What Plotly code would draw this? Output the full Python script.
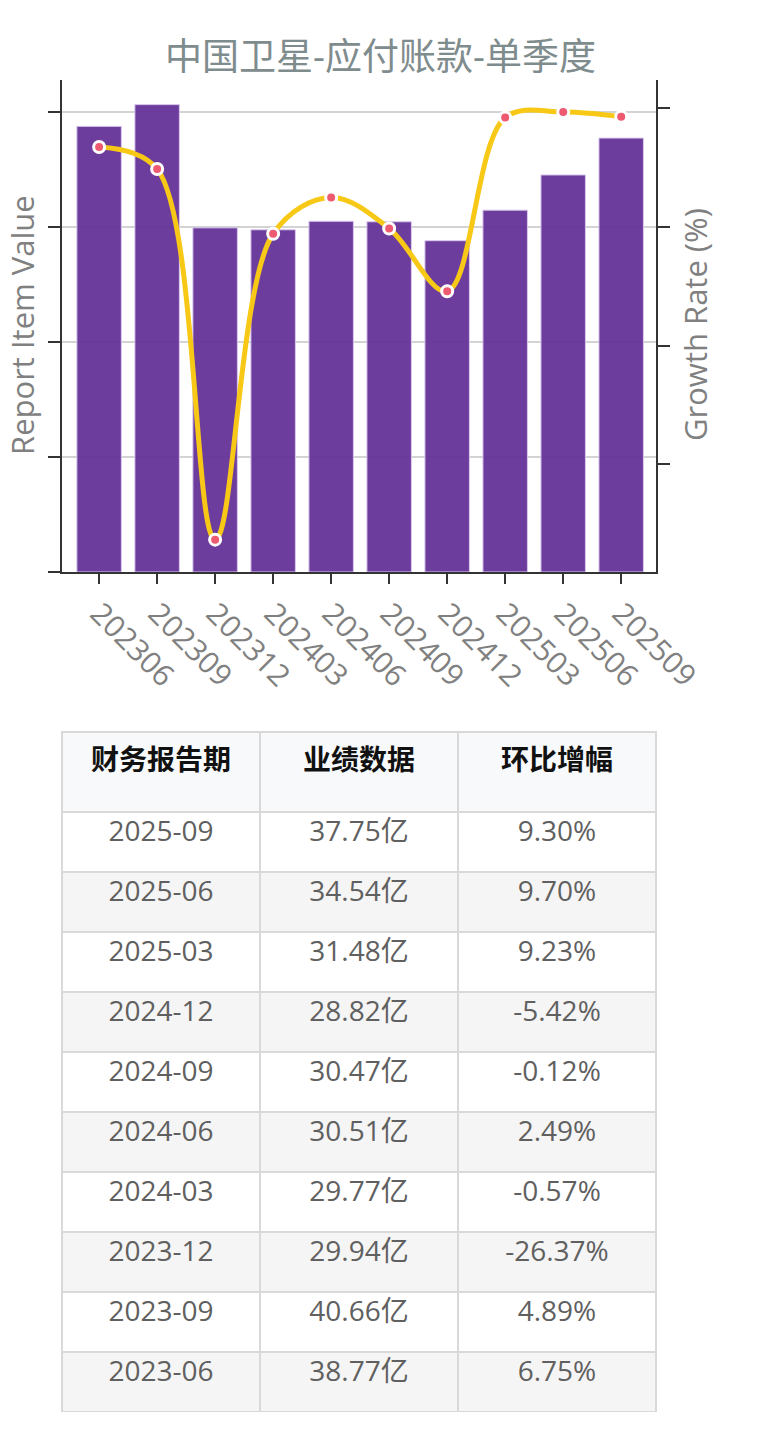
import plotly.graph_objects as go

# ---- data ----
periods = ["202306", "202309", "202312", "202403", "202406",
           "202409", "202412", "202503", "202506", "202509"]
values_yi = [38.77, 40.66, 29.94, 29.77, 30.51, 30.47, 28.82, 31.48, 34.54, 37.75]
growth_pct = [6.75, 4.89, -26.37, -0.57, 2.49, -0.12, -5.42, 9.23, 9.70, 9.30]

table_header = ["财务报告期", "业绩数据", "环比增幅"]
table_dates = ["2025-09", "2025-06", "2025-03", "2024-12", "2024-09",
               "2024-06", "2024-03", "2023-12", "2023-09", "2023-06"]
table_values = ["37.75亿", "34.54亿", "31.48亿", "28.82亿", "30.47亿",
                "30.51亿", "29.77亿", "29.94亿", "40.66亿", "38.77亿"]
table_growth = ["9.30%", "9.70%", "9.23%", "-5.42%", "-0.12%",
                "2.49%", "-0.57%", "-26.37%", "4.89%", "6.75%"]

W, H = 761, 1440
FONT = "Open Sans, Noto Sans CJK SC, sans-serif"
GRAY = "#808080"

px = lambda x: x / W
py = lambda y: 1 - y / H

fig = go.Figure()

fig.add_trace(go.Bar(
    x=periods, y=values_yi, name="Report Item Value",
    marker=dict(color="#663399", line=dict(color="#d9c8ec", width=1)),
    opacity=0.95, yaxis="y",
))

fig.add_trace(go.Scatter(
    x=periods, y=growth_pct, name="Growth Rate", yaxis="y2",
    mode="lines+markers",
    line=dict(color="#F7C815", width=5, shape="spline", smoothing=1.0),
    marker=dict(color="#EE5A6F", size=11, line=dict(color="white", width=3)),
))

# zero line of growth axis
fig.add_shape(type="line", xref="paper", x0=px(62), x1=px(656),
              yref="y2", y0=0, y1=0, layer="below",
              line=dict(color="#d9463c", width=1.5))

fig.add_trace(go.Table(
    domain=dict(x=[px(62), px(656)], y=[py(1412), py(732)]),
    columnwidth=[1, 1, 1],
    header=dict(
        values=[f"<b>{h}</b>" for h in table_header],
        fill_color="#f8f9fa", line=dict(color="#d9d9d9", width=2),
        align="center", height=80,
        font=dict(family=FONT, size=28, color="#111111"),
    ),
    cells=dict(
        values=[table_dates, table_values, table_growth],
        fill_color=[["#ffffff" if i % 2 == 0 else "#f5f5f5" for i in range(len(table_dates))]] * 3,
        line=dict(color="#d9d9d9", width=2),
        align="center", height=60,
        font=dict(family=FONT, size=28, color="#606060"),
    ),
))

fig.update_layout(
    width=W, height=H,
    margin=dict(l=0, r=0, t=0, b=0),
    paper_bgcolor="white", plot_bgcolor="white",
    showlegend=False,
    font=dict(family=FONT, color=GRAY),
    bargap=0.233,
    title=dict(text="中国卫星-应付账款-单季度", x=0.5, xanchor="center",
               y=py(57), yanchor="middle",
               font=dict(family=FONT, size=37, color="#7f8c8d")),
    xaxis=dict(
        domain=[px(62), px(656)], type="category", range=[-0.64, 9.6],
        showline=True, linecolor="#333333", linewidth=2,
        ticks="outside", ticklen=10, tickwidth=2, tickcolor="#333333",
        tickangle=45, tickfont=dict(size=30, color=GRAY),
        showgrid=False, automargin=False,
    ),
    yaxis=dict(
        domain=[py(572), py(80)], range=[0, 42.8], tick0=0, dtick=10,
        showticklabels=False, ticks="outside", ticklen=12, tickwidth=2,
        tickcolor="#333333", showline=True, linecolor="#333333", linewidth=2,
        showgrid=True, gridcolor="#d3d3d3", gridwidth=1.5,
        zeroline=False, automargin=False,
    ),
    yaxis2=dict(
        overlaying="y", side="right", anchor="x", range=[-29.1, 12.4],
        tick0=0, dtick=10, showticklabels=False, ticks="outside", ticklen=12,
        tickwidth=2, tickcolor="#333333", showline=True, linecolor="#333333",
        linewidth=2, showgrid=False, zeroline=False, automargin=False,
    ),
    annotations=[
        dict(text="Report Item Value", xref="paper", yref="paper",
             x=px(22), y=py(325), textangle=-90, showarrow=False,
             xanchor="center", yanchor="middle",
             font=dict(family=FONT, size=31, color=GRAY)),
        dict(text="Growth Rate (%)", xref="paper", yref="paper",
             x=px(695), y=py(325), textangle=-90, showarrow=False,
             xanchor="center", yanchor="middle",
             font=dict(family=FONT, size=31, color=GRAY)),
    ],
)

fig.write_html("out.html")
